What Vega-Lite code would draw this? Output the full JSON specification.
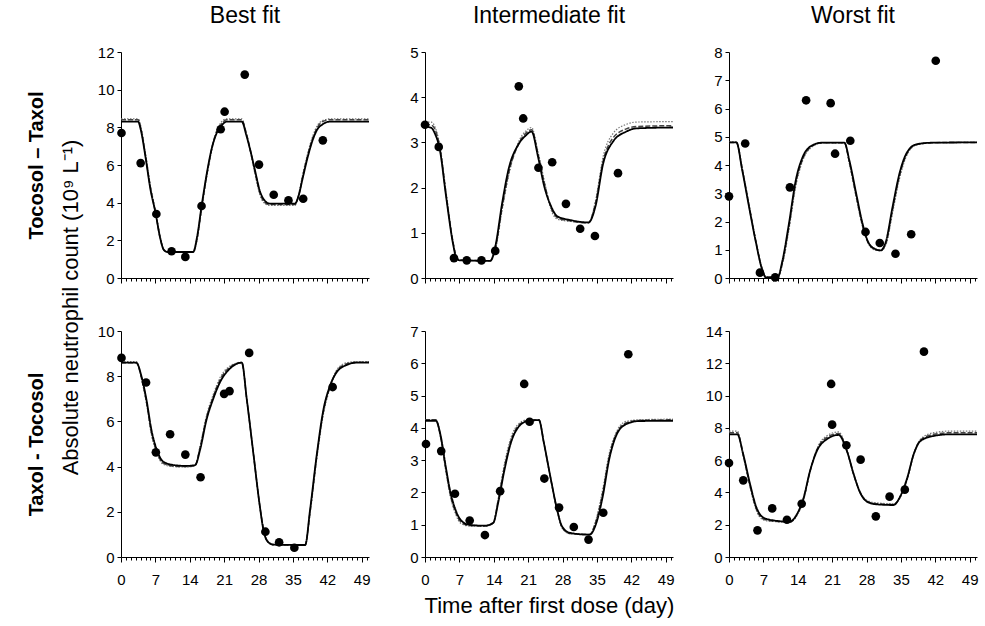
{
  "$schema": "https://vega.github.io/schema/vega-lite/v6.json",
  "background": "white",
  "padding": {"left": 26, "top": 5, "right": 5, "bottom": 5},
  "config": {
    "font": "Liberation Sans",
    "view": {"stroke": null},
    "axis": {"domainColor": "black", "tickColor": "black", "labelColor": "black", "titleColor": "black", "labelFontSize": 15, "labelFont": "Liberation Sans", "titleFont": "Liberation Sans", "grid": false, "domainWidth": 1, "tickWidth": 1},
    "axisY": {"tickSize": 4, "labelPadding": 3},
    "title": {"fontSize": 23, "fontWeight": "normal", "font": "Liberation Sans", "color": "black", "offset": 17}
  },
  "datasets": {
    "curves": [
      {"p":"TL","t":0,"a":8.3,"b":8.4,"c":8.45},{"p":"TL","t":3.5,"a":8.3,"b":8.4,"c":8.45},{"p":"TL","t":4,"a":7.9,"b":8.0,"c":8.1},{"p":"TL","t":5,"a":6.4,"b":6.5,"c":6.6},{"p":"TL","t":6,"a":4.7,"b":4.8,"c":4.9},{"p":"TL","t":7,"a":3.5,"b":3.5,"c":3.6},{"p":"TL","t":8,"a":2.1,"b":2.1,"c":2.2},{"p":"TL","t":8.7,"a":1.5,"b":1.5,"c":1.5},{"p":"TL","t":9.5,"a":1.38,"b":1.38,"c":1.36},{"p":"TL","t":14.7,"a":1.38,"b":1.38,"c":1.36},{"p":"TL","t":15.5,"a":2.2,"b":2.1,"c":2.0},{"p":"TL","t":16.4,"a":3.8,"b":3.7,"c":3.6},{"p":"TL","t":17.5,"a":5.6,"b":5.5,"c":5.4},{"p":"TL","t":18.5,"a":6.9,"b":6.9,"c":6.8},{"p":"TL","t":19.5,"a":7.7,"b":7.8,"c":7.8},{"p":"TL","t":20.5,"a":8.1,"b":8.2,"c":8.3},{"p":"TL","t":21.5,"a":8.3,"b":8.4,"c":8.45},{"p":"TL","t":24.6,"a":8.3,"b":8.4,"c":8.45},{"p":"TL","t":25.5,"a":7.6,"b":7.7,"c":7.7},{"p":"TL","t":26.5,"a":6.6,"b":6.6,"c":6.5},{"p":"TL","t":27.3,"a":5.7,"b":5.6,"c":5.5},{"p":"TL","t":28.3,"a":4.6,"b":4.5,"c":4.4},{"p":"TL","t":29.3,"a":4.1,"b":4.0,"c":3.95},{"p":"TL","t":30.3,"a":3.95,"b":3.9,"c":3.85},{"p":"TL","t":35.4,"a":3.95,"b":3.9,"c":3.85},{"p":"TL","t":36.2,"a":4.4,"b":4.4,"c":4.5},{"p":"TL","t":37,"a":5.3,"b":5.4,"c":5.5},{"p":"TL","t":38,"a":6.4,"b":6.5,"c":6.6},{"p":"TL","t":39,"a":7.3,"b":7.4,"c":7.5},{"p":"TL","t":40,"a":7.9,"b":8.0,"c":8.1},{"p":"TL","t":41,"a":8.15,"b":8.3,"c":8.35},{"p":"TL","t":42.5,"a":8.3,"b":8.4,"c":8.45},{"p":"TL","t":50.5,"a":8.3,"b":8.4,"c":8.45},
      {"p":"TM","t":0,"a":3.35,"b":3.4,"c":3.45},{"p":"TM","t":1.3,"a":3.32,"b":3.38,"c":3.45},{"p":"TM","t":2,"a":3.2,"b":3.3,"c":3.35},{"p":"TM","t":3,"a":2.85,"b":2.9,"c":2.95},{"p":"TM","t":4.3,"a":1.8,"b":1.85,"c":1.9},{"p":"TM","t":5.7,"a":0.76,"b":0.8,"c":0.8},{"p":"TM","t":6.3,"a":0.47,"b":0.5,"c":0.5},{"p":"TM","t":7,"a":0.39,"b":0.4,"c":0.4},{"p":"TM","t":13.3,"a":0.38,"b":0.38,"c":0.38},{"p":"TM","t":14.3,"a":0.69,"b":0.65,"c":0.6},{"p":"TM","t":15.7,"a":1.65,"b":1.55,"c":1.5},{"p":"TM","t":17,"a":2.4,"b":2.3,"c":2.25},{"p":"TM","t":19,"a":2.95,"b":2.95,"c":3.0},{"p":"TM","t":20.5,"a":3.15,"b":3.2,"c":3.25},{"p":"TM","t":21.7,"a":3.24,"b":3.28,"c":3.33},{"p":"TM","t":23,"a":2.69,"b":2.75,"c":2.8},{"p":"TM","t":24.3,"a":2.02,"b":2.1,"c":2.15},{"p":"TM","t":25.7,"a":1.58,"b":1.55,"c":1.5},{"p":"TM","t":27,"a":1.36,"b":1.33,"c":1.3},{"p":"TM","t":29.7,"a":1.28,"b":1.26,"c":1.25},{"p":"TM","t":33.3,"a":1.23,"b":1.22,"c":1.22},{"p":"TM","t":34.7,"a":1.58,"b":1.65,"c":1.7},{"p":"TM","t":36.3,"a":2.54,"b":2.6,"c":2.7},{"p":"TM","t":38.3,"a":3.02,"b":3.1,"c":3.2},{"p":"TM","t":41,"a":3.24,"b":3.3,"c":3.4},{"p":"TM","t":43,"a":3.31,"b":3.35,"c":3.45},{"p":"TM","t":50.5,"a":3.33,"b":3.37,"c":3.46},
      {"p":"TR","t":0,"a":4.8,"b":4.8,"c":4.82},{"p":"TR","t":1.5,"a":4.8,"b":4.8,"c":4.82},{"p":"TR","t":2.7,"a":3.81,"b":3.85,"c":3.9},{"p":"TR","t":4.1,"a":2.5,"b":2.55,"c":2.6},{"p":"TR","t":5.4,"a":1.33,"b":1.35,"c":1.4},{"p":"TR","t":6.8,"a":0.27,"b":0.3,"c":0.3},{"p":"TR","t":7.5,"a":0.02,"b":0.03,"c":0.04},{"p":"TR","t":9.9,"a":0.02,"b":0.03,"c":0.04},{"p":"TR","t":10.9,"a":0.63,"b":0.55,"c":0.5},{"p":"TR","t":12.2,"a":1.92,"b":1.8,"c":1.7},{"p":"TR","t":13.6,"a":3.46,"b":3.35,"c":3.25},{"p":"TR","t":15,"a":4.28,"b":4.2,"c":4.15},{"p":"TR","t":17,"a":4.7,"b":4.68,"c":4.65},{"p":"TR","t":19,"a":4.79,"b":4.79,"c":4.78},{"p":"TR","t":23.5,"a":4.79,"b":4.79,"c":4.78},{"p":"TR","t":24.5,"a":4.17,"b":4.1,"c":4.05},{"p":"TR","t":25.9,"a":2.99,"b":2.9,"c":2.85},{"p":"TR","t":27.2,"a":1.92,"b":1.85,"c":1.8},{"p":"TR","t":28.2,"a":1.33,"b":1.3,"c":1.28},{"p":"TR","t":29.6,"a":1.04,"b":1.02,"c":1.0},{"p":"TR","t":30.9,"a":0.98,"b":0.97,"c":0.96},{"p":"TR","t":32,"a":1.33,"b":1.25,"c":1.2},{"p":"TR","t":33.3,"a":2.51,"b":2.4,"c":2.3},{"p":"TR","t":34.7,"a":3.69,"b":3.6,"c":3.5},{"p":"TR","t":36.1,"a":4.4,"b":4.35,"c":4.3},{"p":"TR","t":38.1,"a":4.73,"b":4.72,"c":4.7},{"p":"TR","t":41.5,"a":4.79,"b":4.79,"c":4.79},{"p":"TR","t":50.5,"a":4.8,"b":4.8,"c":4.8},
      {"p":"BL","t":0,"a":8.6,"b":8.6,"c":8.65},{"p":"BL","t":3.1,"a":8.6,"b":8.6,"c":8.65},{"p":"BL","t":4.2,"a":7.97,"b":7.9,"c":7.85},{"p":"BL","t":5.2,"a":6.94,"b":6.85,"c":6.75},{"p":"BL","t":6.2,"a":5.62,"b":5.5,"c":5.4},{"p":"BL","t":7.3,"a":4.74,"b":4.65,"c":4.6},{"p":"BL","t":8.6,"a":4.22,"b":4.15,"c":4.1},{"p":"BL","t":10.7,"a":4.07,"b":4.02,"c":4.0},{"p":"BL","t":13.4,"a":4.03,"b":4.0,"c":3.98},{"p":"BL","t":15.1,"a":4.07,"b":4.05,"c":4.05},{"p":"BL","t":16.1,"a":4.74,"b":4.85,"c":4.9},{"p":"BL","t":17.4,"a":6.06,"b":6.15,"c":6.25},{"p":"BL","t":18.8,"a":7.01,"b":7.1,"c":7.2},{"p":"BL","t":20.2,"a":7.75,"b":7.85,"c":7.95},{"p":"BL","t":22.2,"a":8.34,"b":8.4,"c":8.45},{"p":"BL","t":24.6,"a":8.6,"b":8.6,"c":8.62},{"p":"BL","t":25.6,"a":7.0,"b":7.0,"c":7.0},{"p":"BL","t":27,"a":4.5,"b":4.5,"c":4.5},{"p":"BL","t":28.3,"a":2.2,"b":2.2,"c":2.2},{"p":"BL","t":29,"a":1.2,"b":1.25,"c":1.25},{"p":"BL","t":29.8,"a":0.7,"b":0.72,"c":0.7},{"p":"BL","t":31,"a":0.55,"b":0.55,"c":0.53},{"p":"BL","t":37.5,"a":0.53,"b":0.53,"c":0.52},{"p":"BL","t":38.5,"a":2.09,"b":2.0,"c":1.9},{"p":"BL","t":39.9,"a":4.59,"b":4.5,"c":4.4},{"p":"BL","t":41.2,"a":6.5,"b":6.4,"c":6.3},{"p":"BL","t":42.6,"a":7.6,"b":7.55,"c":7.5},{"p":"BL","t":44,"a":8.2,"b":8.25,"c":8.3},{"p":"BL","t":46,"a":8.5,"b":8.55,"c":8.6},{"p":"BL","t":48,"a":8.6,"b":8.62,"c":8.65},{"p":"BL","t":50.5,"a":8.6,"b":8.62,"c":8.65},
      {"p":"BM","t":0,"a":4.22,"b":4.25,"c":4.25},{"p":"BM","t":2.2,"a":4.22,"b":4.25,"c":4.25},{"p":"BM","t":3.2,"a":3.75,"b":3.7,"c":3.65},{"p":"BM","t":4.2,"a":2.82,"b":2.75,"c":2.7},{"p":"BM","t":5.2,"a":1.99,"b":1.9,"c":1.85},{"p":"BM","t":6.2,"a":1.47,"b":1.4,"c":1.35},{"p":"BM","t":7.2,"a":1.16,"b":1.1,"c":1.05},{"p":"BM","t":8.9,"a":1.0,"b":0.98,"c":0.96},{"p":"BM","t":12.2,"a":0.97,"b":0.96,"c":0.95},{"p":"BM","t":13.9,"a":1.06,"b":1.05,"c":1.05},{"p":"BM","t":14.9,"a":1.68,"b":1.75,"c":1.8},{"p":"BM","t":16.2,"a":2.71,"b":2.8,"c":2.9},{"p":"BM","t":17.5,"a":3.54,"b":3.6,"c":3.7},{"p":"BM","t":18.9,"a":4.0,"b":4.05,"c":4.1},{"p":"BM","t":20.9,"a":4.21,"b":4.23,"c":4.25},{"p":"BM","t":23.2,"a":4.24,"b":4.25,"c":4.25},{"p":"BM","t":24.2,"a":3.54,"b":3.55,"c":3.55},{"p":"BM","t":25.5,"a":2.51,"b":2.5,"c":2.5},{"p":"BM","t":26.9,"a":1.47,"b":1.45,"c":1.45},{"p":"BM","t":27.9,"a":0.95,"b":0.92,"c":0.9},{"p":"BM","t":29.5,"a":0.75,"b":0.73,"c":0.72},{"p":"BM","t":33.5,"a":0.69,"b":0.7,"c":0.7},{"p":"BM","t":34.9,"a":1.06,"b":1.15,"c":1.2},{"p":"BM","t":36.2,"a":1.88,"b":2.0,"c":2.1},{"p":"BM","t":37.5,"a":3.02,"b":3.1,"c":3.2},{"p":"BM","t":38.9,"a":3.75,"b":3.8,"c":3.85},{"p":"BM","t":40.9,"a":4.11,"b":4.15,"c":4.2},{"p":"BM","t":43.5,"a":4.21,"b":4.23,"c":4.25},{"p":"BM","t":50.5,"a":4.22,"b":4.25,"c":4.27},
      {"p":"BR","t":0,"a":7.6,"b":7.7,"c":7.8},{"p":"BR","t":1.7,"a":7.6,"b":7.7,"c":7.8},{"p":"BR","t":2.9,"a":6.36,"b":6.3,"c":6.25},{"p":"BR","t":4.3,"a":4.5,"b":4.4,"c":4.3},{"p":"BR","t":5.6,"a":3.06,"b":2.95,"c":2.85},{"p":"BR","t":7,"a":2.44,"b":2.35,"c":2.3},{"p":"BR","t":9,"a":2.27,"b":2.22,"c":2.2},{"p":"BR","t":12.4,"a":2.19,"b":2.17,"c":2.15},{"p":"BR","t":13.8,"a":2.64,"b":2.6,"c":2.55},{"p":"BR","t":15.2,"a":3.68,"b":3.6,"c":3.55},{"p":"BR","t":16.5,"a":5.33,"b":5.3,"c":5.3},{"p":"BR","t":17.9,"a":6.57,"b":6.65,"c":6.7},{"p":"BR","t":19.9,"a":7.29,"b":7.4,"c":7.5},{"p":"BR","t":22.3,"a":7.56,"b":7.65,"c":7.75},{"p":"BR","t":24,"a":6.57,"b":6.6,"c":6.65},{"p":"BR","t":25.4,"a":5.12,"b":5.1,"c":5.1},{"p":"BR","t":26.7,"a":3.99,"b":4.0,"c":4.05},{"p":"BR","t":28.1,"a":3.43,"b":3.45,"c":3.5},{"p":"BR","t":30.1,"a":3.26,"b":3.3,"c":3.35},{"p":"BR","t":33.5,"a":3.22,"b":3.25,"c":3.3},{"p":"BR","t":34.9,"a":3.78,"b":3.75,"c":3.7},{"p":"BR","t":36.3,"a":4.91,"b":4.85,"c":4.8},{"p":"BR","t":37.6,"a":6.36,"b":6.35,"c":6.35},{"p":"BR","t":39,"a":7.19,"b":7.25,"c":7.3},{"p":"BR","t":41.7,"a":7.5,"b":7.6,"c":7.7},{"p":"BR","t":45.1,"a":7.6,"b":7.7,"c":7.8},{"p":"BR","t":50.5,"a":7.6,"b":7.7,"c":7.8}
    ],
    "obs": [
      {"p":"TL","t":0.1,"v":7.7},{"p":"TL","t":4.0,"v":6.1},{"p":"TL","t":7.2,"v":3.4},{"p":"TL","t":10.3,"v":1.42},{"p":"TL","t":13.1,"v":1.12},{"p":"TL","t":16.4,"v":3.82},{"p":"TL","t":20.3,"v":7.9},{"p":"TL","t":21.1,"v":8.83},{"p":"TL","t":25.2,"v":10.8},{"p":"TL","t":28.1,"v":6.02},{"p":"TL","t":31.1,"v":4.42},{"p":"TL","t":34.1,"v":4.12},{"p":"TL","t":37.1,"v":4.21},{"p":"TL","t":41.1,"v":7.31},
      {"p":"TM","t":0,"v":3.39},{"p":"TM","t":2.8,"v":2.9},{"p":"TM","t":5.9,"v":0.44},{"p":"TM","t":8.5,"v":0.39},{"p":"TM","t":11.5,"v":0.39},{"p":"TM","t":14.3,"v":0.6},{"p":"TM","t":19.1,"v":4.24},{"p":"TM","t":20,"v":3.53},{"p":"TM","t":23.1,"v":2.44},{"p":"TM","t":25.9,"v":2.56},{"p":"TM","t":28.7,"v":1.64},{"p":"TM","t":31.6,"v":1.09},{"p":"TM","t":34.6,"v":0.93},{"p":"TM","t":39.3,"v":2.32},
      {"p":"TR","t":0,"v":2.89},{"p":"TR","t":3.3,"v":4.76},{"p":"TR","t":6.3,"v":0.19},{"p":"TR","t":9.4,"v":0.02},{"p":"TR","t":12.4,"v":3.21},{"p":"TR","t":15.7,"v":6.29},{"p":"TR","t":20.7,"v":6.19},{"p":"TR","t":21.6,"v":4.4},{"p":"TR","t":24.7,"v":4.86},{"p":"TR","t":27.8,"v":1.63},{"p":"TR","t":30.7,"v":1.24},{"p":"TR","t":33.9,"v":0.86},{"p":"TR","t":37.1,"v":1.55},{"p":"TR","t":42.1,"v":7.69},
      {"p":"BL","t":0.1,"v":8.81},{"p":"BL","t":5.1,"v":7.72},{"p":"BL","t":7.1,"v":4.63},{"p":"BL","t":10,"v":5.43},{"p":"BL","t":13.1,"v":4.53},{"p":"BL","t":16.2,"v":3.53},{"p":"BL","t":21,"v":7.22},{"p":"BL","t":22.1,"v":7.34},{"p":"BL","t":26.1,"v":9.03},{"p":"BL","t":29.4,"v":1.12},{"p":"BL","t":32.2,"v":0.65},{"p":"BL","t":35.3,"v":0.41},{"p":"BL","t":43.1,"v":7.52},
      {"p":"BM","t":0.2,"v":3.5},{"p":"BM","t":3.3,"v":3.28},{"p":"BM","t":6.1,"v":1.96},{"p":"BM","t":9.1,"v":1.13},{"p":"BM","t":12.2,"v":0.68},{"p":"BM","t":15.3,"v":2.04},{"p":"BM","t":20.2,"v":5.36},{"p":"BM","t":21.3,"v":4.19},{"p":"BM","t":24.3,"v":2.43},{"p":"BM","t":27.3,"v":1.53},{"p":"BM","t":30.3,"v":0.93},{"p":"BM","t":33.3,"v":0.54},{"p":"BM","t":36.3,"v":1.37},{"p":"BM","t":41.4,"v":6.28},
      {"p":"BR","t":0,"v":5.82},{"p":"BR","t":2.9,"v":4.75},{"p":"BR","t":5.8,"v":1.65},{"p":"BR","t":8.8,"v":3.01},{"p":"BR","t":11.8,"v":2.31},{"p":"BR","t":14.8,"v":3.3},{"p":"BR","t":20.8,"v":10.72},{"p":"BR","t":21,"v":8.2},{"p":"BR","t":23.9,"v":6.92},{"p":"BR","t":26.8,"v":6.03},{"p":"BR","t":29.9,"v":2.52},{"p":"BR","t":32.7,"v":3.74},{"p":"BR","t":35.8,"v":4.17},{"p":"BR","t":39.7,"v":12.72}
    ]
  },
  "bounds": "flush",
  "columns": 3,
  "spacing": {"row": 53, "column": 56},
  "concat": [
    {
      "width": 248, "height": 226,
      "title": {"text": "Best fit"},
      "encoding": {
        "x": {"field": "t", "type": "quantitative", "scale": {"domain": [0, 50.5], "nice": false, "zero": false},
              "axis": {"values": [0,1,2,3,4,5,6,7,8,9,10,11,12,13,14,15,16,17,18,19,20,21,22,23,24,25,26,27,28,29,30,31,32,33,34,35,36,37,38,39,40,41,42,43,44,45,46,47,48,49,50], "labels": false,
                       "tickSize": {"condition": {"test": "datum.value % 7 === 0", "value": 5}, "value": 3},
                       "title": "Absolute neutrophil count (10⁹ L⁻¹)", "titleAngle": 270, "titleX": -51, "titleY": 29, "titleFontSize": 22, "titleFontWeight": "normal", "titleAlign": "center", "titleBaseline": "middle"}},
        "y": {"field": "v", "type": "quantitative", "scale": {"domain": [0, 12], "nice": false},
              "axis": {"values": [0,2,4,6,8,10,12], "title": "Tocosol – Taxol", "titleFontSize": 20, "titleFontWeight": "bold", "titleX": -85, "titleY": 113, "titleAngle": 270, "titleAlign": "center", "titleBaseline": "middle"}}
      },
      "layer": [
        {"data": {"name": "curves"}, "transform": [{"filter": "datum.p === 'TL'"}, {"fold": ["c", "b", "a"], "as": ["s", "v"]}],
         "mark": {"type": "line", "interpolate": "monotone"},
         "encoding": {
           "strokeDash": {"field": "s", "type": "nominal", "scale": {"domain": ["a","b","c"], "range": [[1,0],[5,2],[1.5,1.5]]}, "legend": null},
           "color": {"field": "s", "type": "nominal", "scale": {"domain": ["a","b","c"], "range": ["#000000","#444444","#777777"]}, "legend": null},
           "strokeWidth": {"field": "s", "type": "nominal", "scale": {"domain": ["a","b","c"], "range": [1.8,1.2,1.2]}, "legend": null}
         }},
        {"data": {"name": "obs"}, "transform": [{"filter": "datum.p === 'TL'"}],
         "mark": {"type": "point", "filled": true, "color": "black", "size": 75, "opacity": 1}}
      ]
    },
    {
      "width": 248, "height": 226,
      "title": {"text": "Intermediate fit"},
      "encoding": {
        "x": {"field": "t", "type": "quantitative", "scale": {"domain": [0, 50.5], "nice": false, "zero": false},
              "axis": {"values": [0,1,2,3,4,5,6,7,8,9,10,11,12,13,14,15,16,17,18,19,20,21,22,23,24,25,26,27,28,29,30,31,32,33,34,35,36,37,38,39,40,41,42,43,44,45,46,47,48,49,50], "labels": false, "title": null,
                       "tickSize": {"condition": {"test": "datum.value % 7 === 0", "value": 5}, "value": 3}}},
        "y": {"field": "v", "type": "quantitative", "scale": {"domain": [0, 5], "nice": false},
              "axis": {"values": [0,1,2,3,4,5], "title": null}}
      },
      "layer": [
        {"data": {"name": "curves"}, "transform": [{"filter": "datum.p === 'TM'"}, {"fold": ["c", "b", "a"], "as": ["s", "v"]}],
         "mark": {"type": "line", "interpolate": "monotone"},
         "encoding": {
           "strokeDash": {"field": "s", "type": "nominal", "scale": {"domain": ["a","b","c"], "range": [[1,0],[5,2],[1.5,1.5]]}, "legend": null},
           "color": {"field": "s", "type": "nominal", "scale": {"domain": ["a","b","c"], "range": ["#000000","#444444","#777777"]}, "legend": null},
           "strokeWidth": {"field": "s", "type": "nominal", "scale": {"domain": ["a","b","c"], "range": [1.8,1.2,1.2]}, "legend": null}
         }},
        {"data": {"name": "obs"}, "transform": [{"filter": "datum.p === 'TM'"}],
         "mark": {"type": "point", "filled": true, "color": "black", "size": 75, "opacity": 1}}
      ]
    },
    {
      "width": 248, "height": 226,
      "title": {"text": "Worst fit"},
      "encoding": {
        "x": {"field": "t", "type": "quantitative", "scale": {"domain": [0, 50.5], "nice": false, "zero": false},
              "axis": {"values": [0,1,2,3,4,5,6,7,8,9,10,11,12,13,14,15,16,17,18,19,20,21,22,23,24,25,26,27,28,29,30,31,32,33,34,35,36,37,38,39,40,41,42,43,44,45,46,47,48,49,50], "labels": false, "title": null,
                       "tickSize": {"condition": {"test": "datum.value % 7 === 0", "value": 5}, "value": 3}}},
        "y": {"field": "v", "type": "quantitative", "scale": {"domain": [0, 8], "nice": false},
              "axis": {"values": [0,1,2,3,4,5,6,7,8], "title": null}}
      },
      "layer": [
        {"data": {"name": "curves"}, "transform": [{"filter": "datum.p === 'TR'"}, {"fold": ["c", "b", "a"], "as": ["s", "v"]}],
         "mark": {"type": "line", "interpolate": "monotone"},
         "encoding": {
           "strokeDash": {"field": "s", "type": "nominal", "scale": {"domain": ["a","b","c"], "range": [[1,0],[5,2],[1.5,1.5]]}, "legend": null},
           "color": {"field": "s", "type": "nominal", "scale": {"domain": ["a","b","c"], "range": ["#000000","#444444","#777777"]}, "legend": null},
           "strokeWidth": {"field": "s", "type": "nominal", "scale": {"domain": ["a","b","c"], "range": [1.8,1.2,1.2]}, "legend": null}
         }},
        {"data": {"name": "obs"}, "transform": [{"filter": "datum.p === 'TR'"}],
         "mark": {"type": "point", "filled": true, "color": "black", "size": 75, "opacity": 1}}
      ]
    },
    {
      "width": 248, "height": 226,
      "encoding": {
        "x": {"field": "t", "type": "quantitative", "scale": {"domain": [0, 50.5], "nice": false, "zero": false},
              "axis": {"values": [0,1,2,3,4,5,6,7,8,9,10,11,12,13,14,15,16,17,18,19,20,21,22,23,24,25,26,27,28,29,30,31,32,33,34,35,36,37,38,39,40,41,42,43,44,45,46,47,48,49,50], "labelExpr": "datum.value % 7 === 0 ? datum.label : ''", "labelOverlap": false, "labelFlush": false, "labelPadding": 10, "title": null,
                       "tickSize": {"condition": {"test": "datum.value % 7 === 0", "value": 5}, "value": 3}}},
        "y": {"field": "v", "type": "quantitative", "scale": {"domain": [0, 10], "nice": false},
              "axis": {"values": [0,2,4,6,8,10], "title": "Taxol - Tocosol", "titleFontSize": 20, "titleFontWeight": "bold", "titleX": -85, "titleY": 113, "titleAngle": 270, "titleAlign": "center", "titleBaseline": "middle"}}
      },
      "layer": [
        {"data": {"name": "curves"}, "transform": [{"filter": "datum.p === 'BL'"}, {"fold": ["c", "b", "a"], "as": ["s", "v"]}],
         "mark": {"type": "line", "interpolate": "monotone"},
         "encoding": {
           "strokeDash": {"field": "s", "type": "nominal", "scale": {"domain": ["a","b","c"], "range": [[1,0],[5,2],[1.5,1.5]]}, "legend": null},
           "color": {"field": "s", "type": "nominal", "scale": {"domain": ["a","b","c"], "range": ["#000000","#444444","#777777"]}, "legend": null},
           "strokeWidth": {"field": "s", "type": "nominal", "scale": {"domain": ["a","b","c"], "range": [1.8,1.2,1.2]}, "legend": null}
         }},
        {"data": {"name": "obs"}, "transform": [{"filter": "datum.p === 'BL'"}],
         "mark": {"type": "point", "filled": true, "color": "black", "size": 75, "opacity": 1}}
      ]
    },
    {
      "width": 248, "height": 226,
      "encoding": {
        "x": {"field": "t", "type": "quantitative", "scale": {"domain": [0, 50.5], "nice": false, "zero": false},
              "axis": {"values": [0,1,2,3,4,5,6,7,8,9,10,11,12,13,14,15,16,17,18,19,20,21,22,23,24,25,26,27,28,29,30,31,32,33,34,35,36,37,38,39,40,41,42,43,44,45,46,47,48,49,50], "labelExpr": "datum.value % 7 === 0 ? datum.label : ''", "labelOverlap": false, "labelFlush": false, "labelPadding": 10,
                       "title": "Time after first dose (day)", "titleFontSize": 22, "titleFontWeight": "normal", "titlePadding": 8,
                       "tickSize": {"condition": {"test": "datum.value % 7 === 0", "value": 5}, "value": 3}}},
        "y": {"field": "v", "type": "quantitative", "scale": {"domain": [0, 7], "nice": false},
              "axis": {"values": [0,1,2,3,4,5,6,7], "title": null}}
      },
      "layer": [
        {"data": {"name": "curves"}, "transform": [{"filter": "datum.p === 'BM'"}, {"fold": ["c", "b", "a"], "as": ["s", "v"]}],
         "mark": {"type": "line", "interpolate": "monotone"},
         "encoding": {
           "strokeDash": {"field": "s", "type": "nominal", "scale": {"domain": ["a","b","c"], "range": [[1,0],[5,2],[1.5,1.5]]}, "legend": null},
           "color": {"field": "s", "type": "nominal", "scale": {"domain": ["a","b","c"], "range": ["#000000","#444444","#777777"]}, "legend": null},
           "strokeWidth": {"field": "s", "type": "nominal", "scale": {"domain": ["a","b","c"], "range": [1.8,1.2,1.2]}, "legend": null}
         }},
        {"data": {"name": "obs"}, "transform": [{"filter": "datum.p === 'BM'"}],
         "mark": {"type": "point", "filled": true, "color": "black", "size": 75, "opacity": 1}}
      ]
    },
    {
      "width": 248, "height": 226,
      "encoding": {
        "x": {"field": "t", "type": "quantitative", "scale": {"domain": [0, 50.5], "nice": false, "zero": false},
              "axis": {"values": [0,1,2,3,4,5,6,7,8,9,10,11,12,13,14,15,16,17,18,19,20,21,22,23,24,25,26,27,28,29,30,31,32,33,34,35,36,37,38,39,40,41,42,43,44,45,46,47,48,49,50], "labelExpr": "datum.value % 7 === 0 ? datum.label : ''", "labelOverlap": false, "labelFlush": false, "labelPadding": 10, "title": null,
                       "tickSize": {"condition": {"test": "datum.value % 7 === 0", "value": 5}, "value": 3}}},
        "y": {"field": "v", "type": "quantitative", "scale": {"domain": [0, 14], "nice": false},
              "axis": {"values": [0,2,4,6,8,10,12,14], "title": null}}
      },
      "layer": [
        {"data": {"name": "curves"}, "transform": [{"filter": "datum.p === 'BR'"}, {"fold": ["c", "b", "a"], "as": ["s", "v"]}],
         "mark": {"type": "line", "interpolate": "monotone"},
         "encoding": {
           "strokeDash": {"field": "s", "type": "nominal", "scale": {"domain": ["a","b","c"], "range": [[1,0],[5,2],[1.5,1.5]]}, "legend": null},
           "color": {"field": "s", "type": "nominal", "scale": {"domain": ["a","b","c"], "range": ["#000000","#444444","#777777"]}, "legend": null},
           "strokeWidth": {"field": "s", "type": "nominal", "scale": {"domain": ["a","b","c"], "range": [1.8,1.2,1.2]}, "legend": null}
         }},
        {"data": {"name": "obs"}, "transform": [{"filter": "datum.p === 'BR'"}],
         "mark": {"type": "point", "filled": true, "color": "black", "size": 75, "opacity": 1}}
      ]
    }
  ]
}
